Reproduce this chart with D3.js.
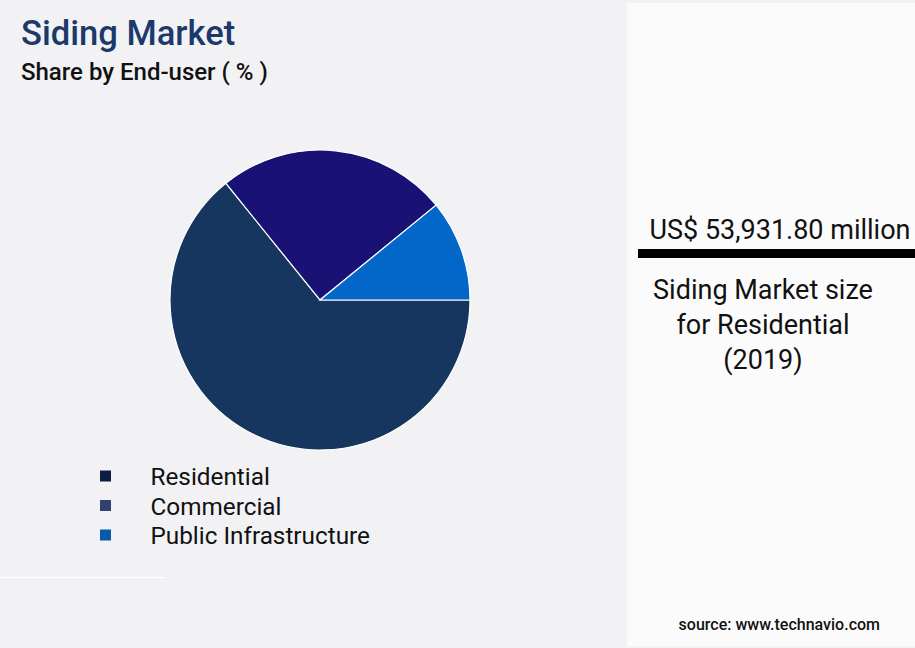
<!DOCTYPE html>
<html>
<head>
<meta charset="utf-8">
<script src="https://cdn.jsdelivr.net/npm/d3@7"></script>
<style>
  body { margin: 0; background: #f2f2f5; }
  svg { display: block; font-family: Roboto, sans-serif; }
</style>
</head>
<body>
<div id="chart"></div>
<script>
// chart data
var segments = ["Residential", "Commercial", "Public Infrastructure"];
var shares = [64.2, 24.9, 10.9];
var sliceColors = ["#17365f", "#191174", "#0366c9"];
var legendColors = ["#0d1c45", "#2e4172", "#0b5aaa"];
var sizeValue = "US$ 53,931.80 million";
var sizeCaption = ["Siding Market size", "for Residential", "(2019)"];

var width = 915, height = 648;

var svg = d3.select("#chart")
    .append("svg")
    .attr("width", width)
    .attr("height", height)

svg.append("rect")
    .attr("width", width)
    .attr("height", height)
    .attr("fill", "#f2f2f5")

// thin divider bottom left
svg.append("line")
    .attr("x1", 0).attr("x2", 165)
    .attr("y1", 577.5).attr("y2", 577.5)
    .attr("stroke", "#ffffff")
    .attr("stroke-width", 1)

// right info panel
svg.append("rect")
    .attr("x", 627)
    .attr("y", 3)
    .attr("width", width - 627)
    .attr("height", 643)
    .attr("fill", "#fbfbfb")

// titles
svg.append("text")
    .attr("x", 21)
    .attr("y", 45)
    .text("Siding Market")
    .attr("fill", "#1b3a6b")
    .style("font-size", "34.6px")
    .style("font-weight", "500")

svg.append("text")
    .attr("x", 21)
    .attr("y", 80)
    .text("Share by End-user ( % )")
    .attr("fill", "#111")
    .style("font-size", "24px")
    .style("font-weight", "500")

// pie
var pie = d3.pie()
    .sort(null)
    .startAngle(Math.PI / 2)
    .endAngle(Math.PI / 2 + 2 * Math.PI)
    .value(d => d);

var arc = d3.arc().innerRadius(0).outerRadius(150);

svg.append("g")
    .attr("transform", "translate(320,300)")
    .selectAll("path")
    .data(pie(shares))
    .enter()
    .append("path")
    .attr("d", arc)
    .attr("fill", (d, i) => sliceColors[i])
    .attr("stroke", "#ffffff")
    .attr("stroke-width", 1.2)

// legend
var legend = svg.selectAll(".legend")
    .data(segments)
    .enter()
    .append("g")
    .attr("class", "legend")
    .attr("transform", (d, i) => "translate(100," + (470.5 + i * 29.5) + ")")

legend.append("rect")
    .attr("width", 11)
    .attr("height", 11)
    .attr("fill", (d, i) => legendColors[i])

legend.append("text")
    .attr("x", 50.5)
    .attr("y", 14.5)
    .text(d => d)
    .attr("fill", "#111")
    .style("font-size", "24.3px")

// market size callout
svg.append("text")
    .attr("x", 780)
    .attr("y", 239)
    .attr("text-anchor", "middle")
    .text(sizeValue)
    .attr("fill", "#111")
    .style("font-size", "27px")

svg.append("rect")
    .attr("x", 638)
    .attr("y", 249)
    .attr("width", width - 638)
    .attr("height", 9)
    .attr("fill", "#000")

svg.selectAll(".caption")
    .data(sizeCaption)
    .enter()
    .append("text")
    .attr("class", "caption")
    .attr("x", 763)
    .attr("y", (d, i) => 299 + i * 35)
    .attr("text-anchor", "middle")
    .text(d => d)
    .attr("fill", "#111")
    .style("font-size", "27px")

svg.append("text")
    .attr("x", 880)
    .attr("y", 630)
    .attr("text-anchor", "end")
    .text("source: www.technavio.com")
    .attr("fill", "#111")
    .style("font-size", "16px")
    .style("font-weight", "500")
</script>
</body>
</html>
